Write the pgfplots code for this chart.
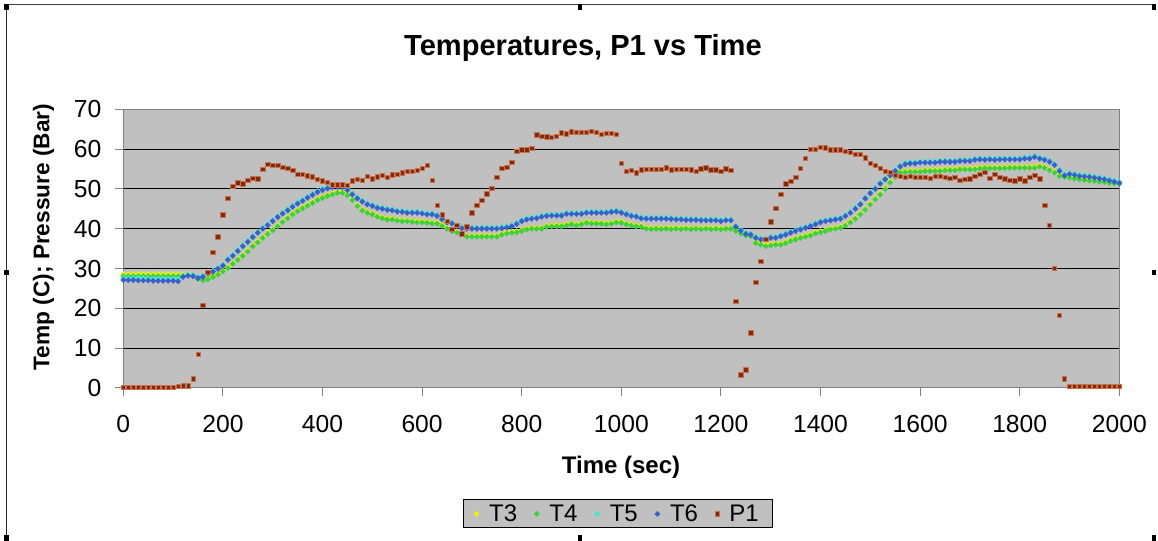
\documentclass[border=0pt]{standalone}
\usepackage{fontspec}
\setmainfont{Liberation Sans}
\usepackage{pgfplots}
\usepackage{pgfplotstable}
\pgfplotsset{compat=1.18}

\definecolor{plotgray}{HTML}{C0C0C0}
\definecolor{bordergray}{HTML}{808080}
\definecolor{cT3}{HTML}{F2F200}
\definecolor{cT4}{HTML}{3CD23C}
\definecolor{cT5}{HTML}{40E8D0}
\definecolor{cT6}{HTML}{3A5FCC}
\definecolor{cP1}{HTML}{7A2C14}
\definecolor{cP1edge}{HTML}{D07048}

% time (s), four thermocouples (C), line pressure P1 (bar)
\pgfplotstableread{
t T3 T4 T5 T6 P1
0 28.6 28.1 27.6 27.1 0.2
10 28.6 28.1 27.6 27.1 0.2
20 28.6 28.1 27.6 27.1 0.2
30 28.6 28.1 27.6 27.0 0.2
40 28.6 28.1 27.6 27.0 0.2
50 28.6 28.1 27.6 27.0 0.2
60 28.6 28.1 27.5 26.9 0.2
70 28.6 28.1 27.5 26.9 0.2
80 28.6 28.1 27.5 26.9 0.2
90 28.6 28.1 27.5 26.9 0.2
100 28.6 28.1 27.5 26.9 0.2
110 28.6 28.1 27.4 26.8 0.5
120 28.5 28.2 28.2 27.9 0.6
130 28.6 28.3 28.5 28.2 0.6
140 28.4 28.1 28.4 28.1 2.3
150 27.7 27.4 27.9 27.6 8.4
160 27.4 27.1 28.2 27.9 20.7
170 27.6 27.3 29.0 28.7 29.0
180 28.2 27.9 29.5 29.2 34.1
190 28.8 28.5 30.2 29.9 38.0
200 29.6 29.3 31.0 30.7 43.5
210 30.4 30.1 32.5 32.2 47.7
220 31.5 31.2 33.5 33.2 50.6
230 32.5 32.2 34.7 34.4 51.5
240 33.5 33.2 35.9 35.6 51.3
250 34.6 34.3 37.0 36.7 52.2
260 35.9 35.6 38.2 37.9 52.7
270 36.9 36.6 39.3 39.0 52.5
280 38.0 37.7 40.3 40.0 55.0
290 39.0 38.7 41.2 40.9 56.2
300 39.9 39.6 42.2 41.9 56.0
310 40.9 40.6 43.2 42.9 56.0
320 42.0 41.7 44.1 43.8 55.4
330 42.9 42.6 44.9 44.6 55.2
340 43.9 43.6 45.8 45.5 54.7
350 44.7 44.4 46.6 46.3 53.7
360 45.4 45.1 47.3 47.0 53.7
370 46.1 45.8 48.1 47.8 53.3
380 46.8 46.5 48.8 48.5 53.1
390 47.5 47.2 49.5 49.2 52.4
400 48.0 47.7 50.0 49.7 52.0
410 48.5 48.2 50.4 50.1 51.6
420 48.9 48.6 50.7 50.4 51.0
430 49.3 49.0 50.8 50.5 51.0
440 49.3 49.0 50.7 50.4 51.0
450 48.7 48.4 50.0 49.7 50.9
460 47.5 47.2 48.9 48.6 52.0
470 46.0 45.7 47.9 47.6 52.4
480 44.9 44.6 47.1 46.8 52.2
490 44.3 44.0 46.4 46.1 53.2
500 43.9 43.6 46.0 45.7 52.6
510 43.3 43.0 45.5 45.2 53.1
520 42.9 42.6 45.3 45.0 53.4
530 42.6 42.3 45.0 44.7 53.0
540 42.6 42.3 44.9 44.6 53.6
550 42.4 42.1 44.6 44.3 53.7
560 42.2 41.9 44.5 44.2 54.1
570 42.2 41.9 44.3 44.0 54.5
580 42.0 41.7 44.3 44.0 54.5
590 41.9 41.6 44.3 44.0 54.7
600 41.9 41.6 44.1 43.8 55.2
610 41.8 41.5 43.9 43.6 56.0
620 41.6 41.3 43.9 43.6 52.2
630 41.6 41.3 43.5 43.2 45.9
640 41.0 40.7 42.7 42.4 43.5
650 40.3 40.0 41.9 41.6 41.8
660 39.7 39.4 41.6 41.3 39.8
670 39.3 39.0 40.9 40.6 40.9
680 38.8 38.5 40.4 40.1 38.7
690 38.3 38.0 40.3 40.0 40.5
700 38.3 38.0 40.3 40.0 44.0
710 38.3 38.0 40.3 40.0 45.9
720 38.3 38.0 40.3 40.0 47.1
730 38.3 38.0 40.3 40.0 48.8
740 38.3 38.0 40.3 40.0 50.2
750 38.3 38.0 40.3 40.0 52.9
760 38.8 38.5 40.4 40.1 55.2
770 39.1 38.8 40.6 40.3 55.5
780 39.3 39.0 40.9 40.6 56.7
790 39.4 39.1 41.5 41.2 59.5
800 39.7 39.4 42.2 41.9 59.8
810 40.1 39.8 42.6 42.3 59.8
820 40.3 40.0 42.8 42.5 60.2
830 40.3 40.0 42.9 42.6 63.6
840 40.3 40.0 43.3 43.0 63.2
850 40.8 40.5 43.5 43.2 63.1
860 40.9 40.6 43.6 43.3 63.0
870 40.9 40.6 43.6 43.3 63.3
880 40.9 40.6 43.6 43.3 64.1
890 41.1 40.8 44.0 43.7 63.9
900 41.4 41.1 44.0 43.7 64.4
910 41.1 40.8 44.0 43.7 64.2
920 41.4 41.1 44.0 43.7 64.2
930 41.8 41.5 44.3 44.0 64.2
940 41.6 41.3 44.3 44.0 64.5
950 41.6 41.3 44.3 44.0 64.2
960 41.6 41.3 44.3 44.0 63.8
970 41.4 41.1 44.3 44.0 64.0
980 41.6 41.3 44.5 44.2 64.0
990 41.9 41.6 44.6 44.3 63.7
1000 41.8 41.5 44.3 44.0 56.5
1010 41.4 41.1 43.9 43.6 54.5
1020 41.1 40.8 43.5 43.2 54.7
1030 40.9 40.6 43.3 43.0 54.1
1040 40.8 40.5 42.9 42.6 54.8
1050 40.3 40.0 42.8 42.5 55.0
1060 40.2 39.9 42.8 42.5 55.0
1070 40.3 40.0 42.8 42.5 55.0
1080 40.2 39.9 42.8 42.5 55.0
1090 40.3 40.0 42.8 42.5 55.3
1100 40.2 39.9 42.7 42.4 54.8
1110 40.3 40.0 42.6 42.3 55.0
1120 40.2 39.9 42.6 42.3 55.0
1130 40.3 40.0 42.5 42.2 55.0
1140 40.2 39.9 42.5 42.2 54.8
1150 40.3 40.0 42.5 42.2 54.5
1160 40.2 39.9 42.4 42.1 55.1
1170 40.3 40.0 42.4 42.1 55.3
1180 40.2 39.9 42.4 42.1 54.8
1190 40.3 40.0 42.4 42.1 54.8
1200 40.1 39.8 42.2 41.9 54.5
1210 40.3 40.0 42.4 42.1 55.1
1220 40.3 40.0 42.4 42.1 54.7
1230 39.7 39.4 40.8 40.5 21.8
1240 39.1 38.8 39.8 39.5 3.3
1250 38.6 38.3 39.0 38.7 4.6
1260 38.4 38.1 38.8 38.5 13.9
1270 36.7 36.4 38.0 37.7 26.5
1280 36.3 36.0 37.6 37.3 31.8
1290 35.9 35.6 37.6 37.3 37.3
1300 36.1 35.8 38.0 37.7 41.7
1310 36.3 36.0 38.0 37.7 45.2
1320 36.3 36.0 38.4 38.1 48.7
1330 36.7 36.4 38.8 38.5 51.3
1340 37.2 36.9 39.3 39.0 51.9
1350 37.6 37.3 39.7 39.4 53.0
1360 38.0 37.7 40.1 39.8 55.2
1370 38.3 38.0 40.5 40.2 57.7
1380 38.6 38.3 40.9 40.6 59.9
1390 39.1 38.8 41.4 41.1 59.9
1400 39.4 39.1 41.9 41.6 60.5
1410 39.7 39.4 42.2 41.9 60.3
1420 40.1 39.8 42.4 42.1 59.8
1430 40.3 40.0 42.6 42.3 59.8
1440 40.5 40.2 42.8 42.5 59.8
1450 41.1 40.8 43.5 43.2 59.4
1460 41.9 41.6 44.3 44.0 59.2
1470 42.8 42.5 45.3 45.0 58.7
1480 43.9 43.6 46.4 46.1 58.7
1490 45.1 44.8 47.9 47.6 57.8
1500 46.4 46.1 49.2 48.9 56.5
1510 47.7 47.4 50.3 50.0 56.0
1520 48.9 48.6 51.6 51.3 55.2
1530 50.3 50.0 52.7 52.4 54.5
1540 51.9 51.6 53.7 53.4 54.2
1550 53.3 53.0 54.8 54.5 53.5
1560 54.4 54.1 55.9 55.6 53.2
1570 54.5 54.2 56.5 56.2 53.0
1580 54.6 54.3 56.7 56.4 53.2
1590 54.6 54.3 56.7 56.4 53.0
1600 54.6 54.3 56.9 56.6 53.0
1610 54.8 54.5 56.9 56.6 53.0
1620 54.8 54.5 56.9 56.6 52.7
1630 54.8 54.5 56.9 56.6 53.2
1640 54.8 54.5 57.1 56.8 53.2
1650 55.0 54.7 57.1 56.8 53.0
1660 55.0 54.7 57.1 56.8 52.7
1670 55.0 54.7 57.1 56.8 53.0
1680 55.2 54.9 57.3 57.0 52.2
1690 55.2 54.9 57.3 57.0 52.4
1700 55.2 54.9 57.3 57.0 52.5
1710 55.2 54.9 57.6 57.3 53.2
1720 55.4 55.1 57.7 57.4 53.7
1730 55.5 55.2 57.6 57.3 54.2
1740 55.5 55.2 57.7 57.4 52.7
1750 55.5 55.2 57.6 57.3 53.7
1760 55.5 55.2 57.7 57.4 53.0
1770 55.5 55.2 57.7 57.4 52.5
1780 55.6 55.3 57.7 57.4 52.2
1790 55.6 55.3 57.7 57.4 52.0
1800 55.6 55.3 57.7 57.4 52.5
1810 55.6 55.3 57.9 57.6 52.0
1820 55.6 55.3 57.9 57.6 53.0
1830 55.6 55.3 58.3 58.0 53.5
1840 55.9 55.6 57.9 57.6 52.5
1850 55.6 55.3 57.6 57.3 45.9
1860 55.0 54.7 57.1 56.8 40.9
1870 54.4 54.1 56.3 56.0 30.0
1880 53.5 53.2 54.8 54.5 18.3
1890 53.3 53.0 53.7 53.4 2.3
1900 53.1 52.8 54.0 53.7 0.4
1910 52.9 52.6 53.8 53.5 0.4
1920 52.7 52.4 53.5 53.2 0.4
1930 52.5 52.2 53.4 53.1 0.4
1940 52.4 52.1 53.3 53.0 0.4
1950 52.3 52.0 53.1 52.8 0.4
1960 52.1 51.8 52.9 52.6 0.4
1970 52.0 51.7 52.7 52.4 0.4
1980 51.8 51.5 52.4 52.1 0.4
1990 51.7 51.4 52.1 51.8 0.4
2000 51.6 51.3 51.8 51.5 0.4
}\runlog

\begin{document}
\begin{tikzpicture}
% page extent and the chart-object frame with its selection handles
\begin{scope}[x=0.75pt,y=-0.75pt]
  \fill[white] (0,0) rectangle (1158,541);
  \draw[black!75, line width=0.75pt] (6,4.5) -- (1154,4.5);
  \draw[black!85, line width=0.75pt] (6.5,4.5) -- (6.5,539);
  \foreach \hx/\hy in {6.5/7, 580/7, 1154/7, 6.5/272.5, 1154/272.5, 6.5/538, 580/538, 1154/538}
    \fill[black] (\hx-2.2,\hy-2.8) rectangle (\hx+2.2,\hy+2.8);
\end{scope}

\begin{axis}[
  at={(92.475pt,-291pt)}, anchor=south west,
  width=747pt, height=209pt, scale only axis,
  xmin=0, xmax=2000, ymin=0, ymax=70,
  xtick={0,200,...,2000}, ytick={0,10,...,70},
  tick pos=left, tick align=outside,
  major tick length=6pt,
  tick style={draw=bordergray, line width=0.75pt},
  axis line style={draw=bordergray, line width=0.75pt},
  axis background/.style={fill=plotgray},
  ymajorgrids,
  major grid style={draw=black, line width=0.75pt},
  /pgf/number format/assume math mode=true,
  /pgf/number format/1000 sep={},
  ticklabel style={font=\fontsize{18.5}{21}\selectfont},
  xticklabel style={yshift=-11pt},
  yticklabel style={xshift=-7pt},
  title={Temperatures, P1 vs Time},
  title style={font=\bfseries\fontsize{21.8}{25}\selectfont,
               at={(axis description cs:0.4615,1.2271)}, anchor=center, yshift=-7.5pt},
  xlabel={Time (sec)},
  xlabel style={font=\bfseries\fontsize{18}{21}\selectfont,
                at={(axis description cs:0.4997,-0.2835)}, anchor=center},
  ylabel={Temp (C); Pressure (Bar)},
  ylabel style={font=\bfseries\fontsize{17}{20}\selectfont,
                at={(axis description cs:-0.0801,0.5418)}, anchor=center},
  legend columns=5,
  legend style={at={(0.3408,-0.3994)}, anchor=north west,
                fill=plotgray, draw=black, line width=0.75pt,
                font=\fontsize{18}{20}\selectfont,
                inner ysep=1.5pt, inner xsep=8pt,
                /tikz/every odd column/.append style={column sep=5.5pt},
                /tikz/every even column/.append style={column sep=10.75pt}},
  legend image code/.code={\draw[mark repeat=2,mark phase=2,#1]
      plot coordinates {(0pt,0pt) (14pt,0pt)};},
  tempmark/.style={only marks, mark=square*, mark size=1.4pt,
                   mark options={rotate=45, draw=#1, fill=#1, line width=0.3pt}},
]
\addplot[tempmark=cT3] table[x=t, y=T3] {\runlog};
\addlegendentry{T3}
\addplot[tempmark=cT4] table[x=t, y=T4] {\runlog};
\addlegendentry{T4}
\addplot[tempmark=cT5] table[x=t, y=T5] {\runlog};
\addlegendentry{T5}
\addplot[tempmark=cT6] table[x=t, y=T6] {\runlog};
\addlegendentry{T6}
\addplot[only marks, mark=square*, mark size=1.65pt,
         mark options={fill=cP1, draw=cP1edge, line width=0.45pt}]
  table[x=t, y=P1] {\runlog};
\addlegendentry{P1}
\end{axis}
\end{tikzpicture}
\end{document}
